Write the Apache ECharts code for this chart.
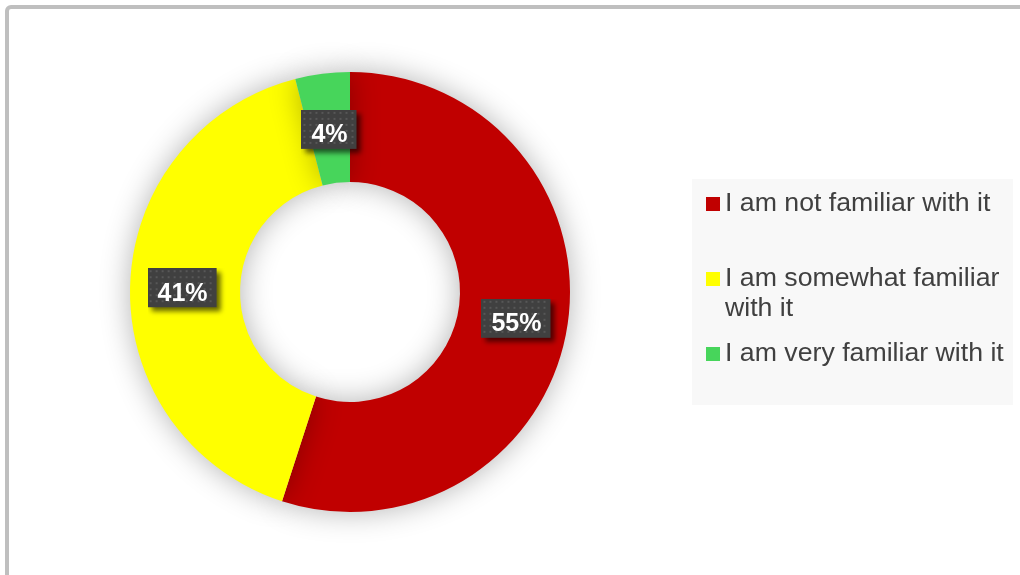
<!DOCTYPE html>
<html>
<head>
<meta charset="utf-8">
<title>Familiarity</title>
<script src="https://cdn.jsdelivr.net/npm/echarts@6/dist/echarts.min.js"></script>
<style>
  html, body { margin: 0; padding: 0; background: #ffffff; }
  #chart { width: 1020px; height: 575px; }
</style>
</head>
<body>
<div id="chart"></div>
<script>
// Survey answers and their shares (percent)
const categories = [
  'I am not familiar with it',
  'I am somewhat familiar with it',
  'I am very familiar with it'
];
const shares = [55, 41, 4];
const colors = ['#C00000', '#FFFF00', '#47D55B'];

const FONT = "'Liberation Sans', Arial, sans-serif";
const LABEL_FONT_SIZE = 25;
const PAD = [5, 9, 5, 10];   // top, right, bottom, left around the value text
const LINE_H = 29;
const SHADOW_M = 12;         // room left for the drop shadow, right and bottom

// Dark dotted label face with its drop shadow, sized to the given text
function labelFace(text) {
  const probe = document.createElement('canvas').getContext('2d');
  probe.font = 'bold ' + LABEL_FONT_SIZE + 'px ' + FONT;
  const bw = Math.round(probe.measureText(text).width) + PAD[1] + PAD[3];
  const bh = LINE_H + PAD[0] + PAD[2];
  const c = document.createElement('canvas');
  c.width = bw + SHADOW_M; c.height = bh + SHADOW_M;
  const g = c.getContext('2d');
  g.shadowColor = 'rgba(0,0,0,0.6)';
  g.shadowBlur = 5;
  g.shadowOffsetX = 4;
  g.shadowOffsetY = 4;
  g.fillStyle = '#404040';
  g.fillRect(0, 0, bw, bh);
  g.shadowColor = 'rgba(0,0,0,0)';
  g.fillStyle = '#575757';
  for (let y = 2; y < bh - 1; y += 6) {
    for (let x = 2; x < bw - 1; x += 6) {
      g.fillRect(x, y, 2, 2);
    }
  }
  return c;
}

const chart = echarts.init(document.getElementById('chart'), null, { renderer: 'canvas' });

const legendBase = {
  orient: 'vertical',
  left: 706,
  padding: 0,
  icon: 'rect',
  itemWidth: 14,
  itemHeight: 14,
  selectedMode: false,
  textStyle: {
    fontFamily: FONT,
    fontSize: 26.7,
    lineHeight: 30,
    color: '#404040'
  }
};

// the thin top slice's label sits a little lower, nearer the ring's middle
const labelNudge = [[0, 0], [0, 1], [0, 4]];

chart.setOption({
  animation: false,
  backgroundColor: '#ffffff',
  graphic: [
    {
      type: 'rect',
      silent: true,
      shape: { x: 7, y: 7, width: 1100, height: 700, r: 4 },
      style: { fill: 'none', stroke: '#bfbfbf', lineWidth: 4 }
    },
    {
      type: 'rect',
      silent: true,
      z: -1,
      shape: { x: 692, y: 179, width: 321, height: 226 },
      style: { fill: '#f8f8f8' }
    }
  ],
  legend: [
    Object.assign({}, legendBase, { top: 189, data: [categories[0]] }),
    Object.assign({}, legendBase, {
      top: 234,
      data: [categories[1]],
      // wrapped over two lines; the blank first line keeps the icon beside the first text line
      formatter: function () { return '\nI am somewhat familiar\nwith it'; }
    }),
    Object.assign({}, legendBase, { top: 339, data: [categories[2]] })
  ],
  series: [
    {
      type: 'pie',
      center: [350, 292],
      radius: [110, 220],
      startAngle: 90,
      clockwise: true,
      avoidLabelOverlap: false,
      emphasis: { disabled: true },
      labelLine: { show: false },
      itemStyle: {
        borderWidth: 0,
        shadowBlur: 30,
        shadowColor: 'rgba(0,0,0,0.3)'
      },
      label: {
        show: true,
        position: 'inside',
        formatter: '{c}%',
        fontFamily: FONT,
        fontWeight: 'bold',
        fontSize: LABEL_FONT_SIZE,
        lineHeight: LINE_H,
        color: '#ffffff',
        padding: [PAD[0], PAD[1] + SHADOW_M, PAD[2] + SHADOW_M, PAD[3]]
      },
      data: categories.map((name, i) => ({
        name: name,
        value: shares[i],
        itemStyle: { color: colors[i] },
        label: {
          backgroundColor: { image: labelFace(shares[i] + '%') },
          offset: [SHADOW_M / 2 + labelNudge[i][0], SHADOW_M / 2 + labelNudge[i][1]]
        }
      }))
    }
  ]
});
</script>
</body>
</html>
